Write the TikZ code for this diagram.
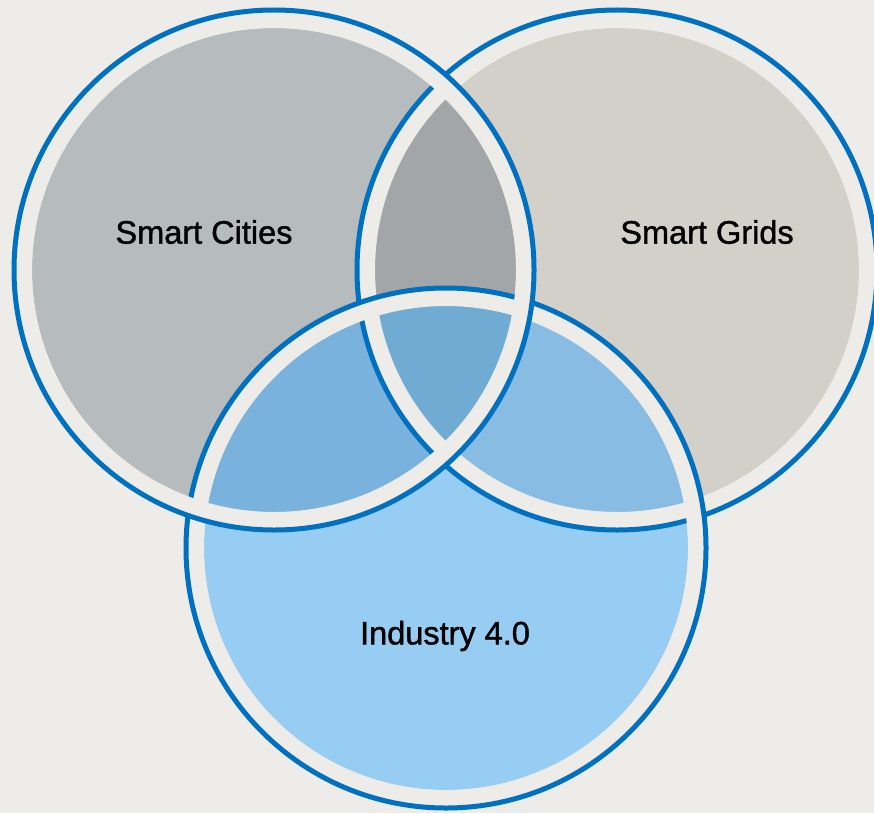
\documentclass[tikz,border=0pt]{standalone}
\usepackage{fontspec}
\newfontfamily\areafont[FakeBold=1.2]{Liberation Sans}
\definecolor{paper}{HTML}{EDECE8}
\definecolor{rimblue}{HTML}{0070C0}
\definecolor{citiesfill}{HTML}{B6BBBE}
\definecolor{gridsfill}{HTML}{D3CFC9}
\definecolor{industryfill}{HTML}{97CDF2}
\definecolor{citiesgrids}{HTML}{A2A6A8}
\definecolor{citiesindustry}{HTML}{79B3DD}
\definecolor{gridsindustry}{HTML}{89BCE2}
\definecolor{allthree}{HTML}{6FABD3}

\begin{document}
\begin{tikzpicture}
      [x=1pt,y=-1pt,
       band/.style={draw=paper,line width=16pt},
       rim/.style={draw=rimblue,line width=5pt},
       areaname/.style={font=\areafont\fontsize{32.5}{40}\selectfont,text=black}]
      \useasboundingbox (0,0) rectangle (874,813) ;
      \clip (0,0) rectangle (874,813) ;
      \fill[paper] (0,0) rectangle (874,813) ;
      \coordinate (cities) at (274,270) ;
      \coordinate (grids) at (617,270) ;
      \coordinate (industry) at (446,548) ;
      \fill[citiesfill] (cities) circle (242pt) ;
      \fill[gridsfill] (grids) circle (242pt) ;
      \fill[industryfill] (industry) circle (242pt) ;
      \begin{scope}
        \clip (cities) circle (242pt) ;
        \fill[citiesgrids] (grids) circle (242pt) ;
        \fill[citiesindustry] (industry) circle (242pt) ;
      \end{scope}
      \begin{scope}
        \clip (grids) circle (242pt) ;
        \fill[gridsindustry] (industry) circle (242pt) ;
      \end{scope}
      \begin{scope}
        \clip (cities) circle (242pt) ;
        \clip (grids) circle (242pt) ;
        \fill[allthree] (industry) circle (242pt) ;
      \end{scope}
      \draw[band] (grids) circle (250pt) ;
      \draw[rim] (grids) circle (260pt) ;
      \draw[band] (industry) circle (250pt) ;
      \draw[rim] (industry) circle (260pt) ;
      \draw[band] (cities) circle (250pt) ;
      \draw[rim] (cities) circle (260pt) ;
      \node[areaname] (citiesname) at (204,232) {Smart Cities} ;
      \node[areaname] (gridsname) at (707,232) {Smart Grids} ;
      \node[areaname] (industryname) at (445,636) {Industry 4.0} ;
    \end{tikzpicture}
\end{document}
